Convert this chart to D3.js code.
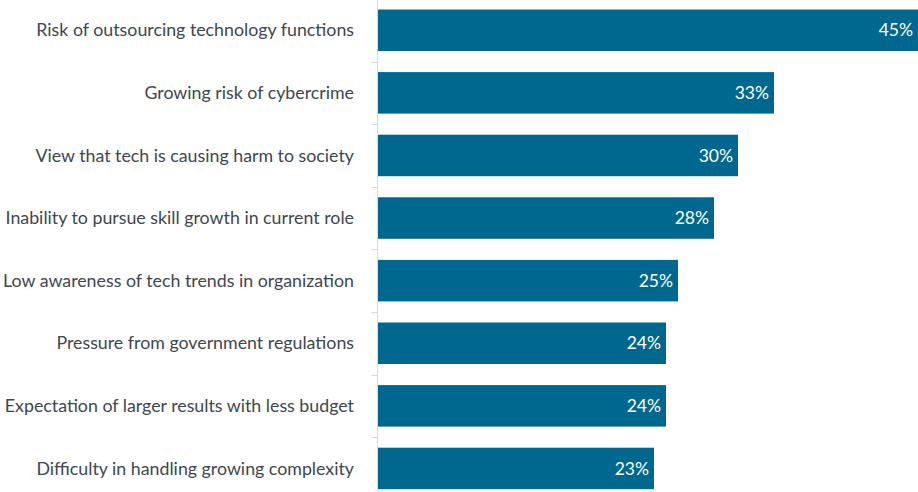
<!DOCTYPE html>
<html>
<head>
<meta charset="utf-8">
<script src="https://cdn.jsdelivr.net/npm/d3@7/dist/d3.min.js"></script>
<style>
  html, body { margin: 0; padding: 0; background: #ffffff; }
  svg { display: block; }
</style>
</head>
<body>
<svg id="chart" width="918" height="492"></svg>
<script>
const categories = [
  "Risk of outsourcing technology functions",
  "Growing risk of cybercrime",
  "View that tech is causing harm to society",
  "Inability to pursue skill growth in current role",
  "Low awareness of tech trends in organization",
  "Pressure from government regulations",
  "Expectation of larger results with less budget",
  "Difficulty in handling growing complexity"
];
const values = [45, 33, 30, 28, 25, 24, 24, 23];
const valueLabels = ["45%", "33%", "30%", "28%", "25%", "24%", "24%", "23%"];

const W = 918, H = 492;
const axisX = 377.5;
const svg = d3.select("#chart");
const fontFamily = "Lato, 'Open Sans', sans-serif";

const x = d3.scaleLinear().domain([0, 45]).range([axisX + 0.5, W]);
const y = d3.scaleBand().domain(categories).range([-1.05, 499.75]).paddingInner(0.337).paddingOuter(0.1685);

// bars
svg.append("g").selectAll("rect")
  .data(categories)
  .join("rect")
  .attr("x", x(0))
  .attr("y", d => y(d))
  .attr("width", (d, i) => x(values[i]) - x(0))
  .attr("height", y.bandwidth())
  .attr("fill", "#00688f");

// category axis line with tick marks between bands
const axis = svg.append("g");
axis.append("line")
  .attr("x1", axisX).attr("x2", axisX)
  .attr("y1", 0).attr("y2", H)
  .attr("stroke", "#d9d9d9").attr("stroke-width", 1);
const step = y.step();
const boundaries = categories.slice(1).map(d => y(d) - step * y.paddingInner() / 2);
axis.selectAll("line.tick")
  .data(boundaries)
  .join("line")
  .attr("class", "tick")
  .attr("x1", axisX - 6).attr("x2", axisX)
  .attr("y1", d => Math.round(d) + 0.5).attr("y2", d => Math.round(d) + 0.5)
  .attr("stroke", "#d9d9d9").attr("stroke-width", 1);

// category labels
svg.append("g").selectAll("text")
  .data(categories)
  .join("text")
  .attr("x", 354)
  .attr("y", d => y(d) + y.bandwidth() / 2)
  .attr("dy", "0.35em")
  .attr("text-anchor", "end")
  .attr("font-family", fontFamily)
  .attr("font-size", 17.8)
  .attr("fill", "#3e4651")
  .text(d => d);

// value labels inside bar ends
svg.append("g").selectAll("text")
  .data(categories)
  .join("text")
  .attr("x", (d, i) => x(values[i]) - 5)
  .attr("y", d => y(d) + y.bandwidth() / 2)
  .attr("dy", "0.35em")
  .attr("text-anchor", "end")
  .attr("font-family", fontFamily)
  .attr("font-size", 17.5)
  .attr("fill", "#ffffff")
  .text((d, i) => valueLabels[i]);
</script>
</body>
</html>
